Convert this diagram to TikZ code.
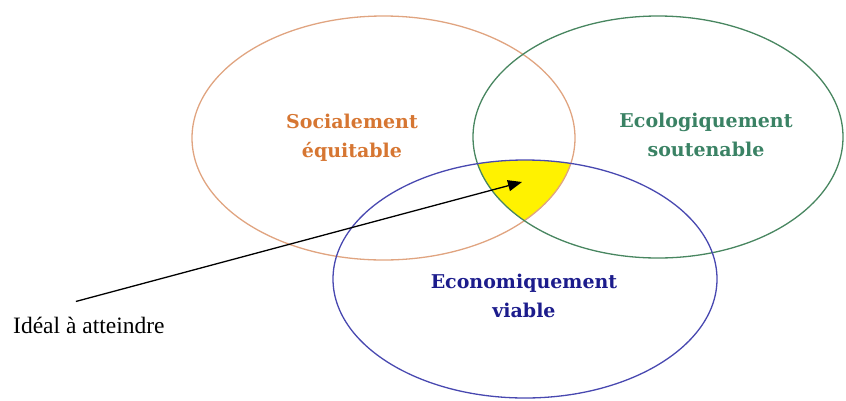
\documentclass[tikz,border=0pt]{standalone}
\usepackage{fontspec}
\setmainfont{Liberation Serif}
\newfontfamily\pillarfont{DejaVu Serif}
\usetikzlibrary{arrows.meta,positioning}
\definecolor{socialline}{RGB}{224,164,128}
\definecolor{socialtext}{RGB}{214,118,50}
\definecolor{ecoline}{RGB}{72,134,96}
\definecolor{ecotext}{RGB}{58,130,100}
\definecolor{econline}{RGB}{72,72,176}
\definecolor{econtext}{RGB}{28,28,140}

\begin{document}
\begin{tikzpicture}
		[x=1pt,y=-1pt,
		every node/.style={align=center,inner sep=0pt},
		pillar/.style={line width=1.3pt},
		pillar label/.style={font=\pillarfont\bfseries\fontsize{19}{29}\selectfont}]
		\useasboundingbox (0,0) rectangle (846,400);
		% ideal zone
		\begin{scope}
			\clip (383.5,138) ellipse [x radius=191.5pt,y radius=122pt];
			\clip (658,137) ellipse [x radius=185pt,y radius=121pt];
			\fill[yellow] (525,279) ellipse [x radius=192pt,y radius=119pt];
		\end{scope}
		% the three pillars
		\draw[pillar,socialline] (383.5,138) ellipse [x radius=191.5pt,y radius=122pt];
		\draw[pillar,ecoline] (658,137) ellipse [x radius=185pt,y radius=121pt];
		\draw[pillar,econline] (525,279) ellipse [x radius=192pt,y radius=119pt];
		\node[pillar label,text=socialtext] (social) at (352,138) {Socialement\\équitable};
		\node[pillar label,text=ecotext] (eco) at (706,135) {Ecologiquement\\soutenable};
		\node[pillar label,text=econtext] (econ) at (524,296) {Economiquement\\viable};
		\node[anchor=base west,font=\fontsize{23.5}{26}\selectfont] (ideal) at (13,333) {Idéal à atteindre};
		\coordinate (cible) at (522,182);
		\coordinate (depart) at ([shift={(-13,-15)}]ideal.north);
		\draw[line width=1.3pt,-{Triangle[length=14pt,width=11pt]}] (depart) -- (cible);
	\end{tikzpicture}
\end{document}
